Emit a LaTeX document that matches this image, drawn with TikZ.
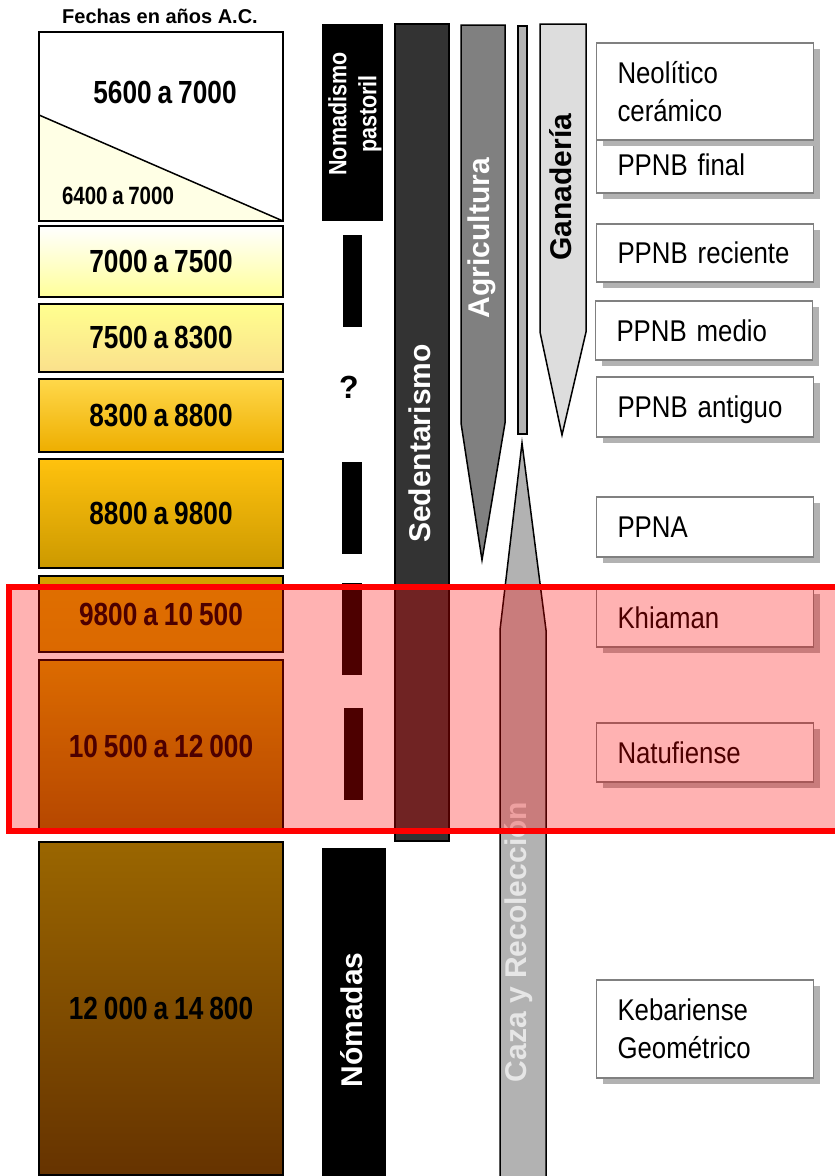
\documentclass[tikz,border=0pt]{standalone}
\usepackage{fontspec}
\setmainfont{Liberation Sans}
\newfontfamily\datefont[FakeStretch=0.82,WordSpace=0.82]{Liberation Sans}
\newfontfamily\narrowfont[FakeStretch=0.86,WordSpace=0.86]{Liberation Sans}
\usetikzlibrary{shadows}
\definecolor{tri}{HTML}{FFFFE5}
\definecolor{sedgray}{HTML}{333333}
\definecolor{agrgray}{HTML}{808080}
\definecolor{cazagray}{HTML}{B2B2B2}
\definecolor{gangray}{HTML}{DDDDDD}
\definecolor{boxgray}{HTML}{808080}
\definecolor{shadowgray}{HTML}{B2B2B2}
\definecolor{cazatext}{HTML}{E6E6E6}
\tikzset{
  datebox/.style={draw=black, line width=2pt, minimum width=244pt, inner sep=0pt,
    font=\datefont\bfseries\fontsize{32}{38}\selectfont},
  smalldate/.style={inner sep=0pt, font=\datefont\bfseries\fontsize{25}{30}\selectfont},
  col/.style={draw=black, line width=1.5pt},
  vlabel/.style={rotate=90, inner sep=0pt, text height=21.5pt, text depth=0pt,
    font=\bfseries\fontsize{30}{36}\selectfont},
  perbox/.style={draw=boxgray, line width=1.5pt, fill=white, minimum width=214pt,
    text width=175pt, inner xsep=21pt, inner ysep=0pt, align=left,
    font=\narrowfont\fontsize{30}{38}\selectfont,
    drop shadow={shadow xshift=6pt, shadow yshift=-6pt, fill=shadowgray, opacity=1}},
  perone/.style={perbox, text height=21.5pt, text depth=0pt},
}
\begin{document}
\begin{tikzpicture}[x=1pt,y=-1pt]
\useasboundingbox (0,0) rectangle (835,1176);
\clip (0,0) rectangle (835,1176);
\fill[white] (0,0) rectangle (835,1176);

% title
\node[inner sep=0pt, font=\bfseries\fontsize{20}{24}\selectfont] (title) at (160,16.5) {Fechas en años A.C.};

% date boxes
\node[datebox, fill=white, minimum height=189pt] (d1) at (161,126.5) {};
\fill[tri] (39,115) -- (283,221) -- (39,221) -- cycle;
\draw[line width=1.5pt] (39,115) -- (283,221);
\draw[line width=2pt] (39,32) rectangle (283,221);
\node[inner sep=0pt, font=\datefont\bfseries\fontsize{32}{38}\selectfont] (d1a) at (165,92) {5600 a 7000};
\node[smalldate] (d1b) at (118,195.5) {6400 a 7000};

\node[datebox, top color=white, bottom color={rgb,255:red,255;green,255;blue,153}, minimum height=71pt] (d2) at (161,261.5) {7000 a 7500};
\node[datebox, top color={rgb,255:red,255;green,255;blue,143}, bottom color={rgb,255:red,250;green,224;blue,140}, minimum height=68pt] (d3) at (161,338) {7500 a 8300};
\node[datebox, top color={rgb,255:red,255;green,216;blue,74}, bottom color={rgb,255:red,238;green,174;blue,0}, minimum height=73pt] (d4) at (161,415.5) {8300 a 8800};
\node[datebox, top color={rgb,255:red,255;green,194;blue,14}, bottom color={rgb,255:red,204;green,153;blue,0}, minimum height=109pt] (d5) at (161,513.5) {8800 a 9800};
\node[datebox, top color={rgb,255:red,212;green,161;blue,0}, bottom color={rgb,255:red,204;green,150;blue,0}, minimum height=76pt] (d6) at (161,614) {9800 a 10 500};
\node[datebox, top color={rgb,255:red,206;green,154;blue,0}, bottom color={rgb,255:red,150;green,102;blue,0}, minimum height=172pt] (d7) at (161,746) {10 500 a 12 000};
\node[datebox, top color={rgb,255:red,154;green,102;blue,0}, bottom color={rgb,255:red,102;green,51;blue,0}, minimum height=333pt] (d8) at (161,1008.5) {12 000 a 14 800};

% nomadismo column
\node[fill=black, inner sep=0pt, minimum width=61pt, minimum height=197pt] (np) at (352.5,122.5) {};
\node[rotate=90, inner sep=0pt, align=center, text=white,
  font=\narrowfont\bfseries\fontsize{25}{30}\selectfont] (npt) at (355,114) {Nomadismo\\pastoril};
\fill[black] (343,235) rectangle (362,327);
\node[inner sep=0pt, font=\bfseries\fontsize{32}{38}\selectfont] (q) at (349,387) {?};
\fill[black] (342,462) rectangle (362,554);
\fill[black] (342,583) rectangle (362,675);
\fill[black] (344,708) rectangle (363,800);
\node[fill=black, inner sep=0pt, minimum width=64pt, minimum height=332pt] (nom) at (354,1014) {};
\node[vlabel, text=white] (nomt) at (351.5,1020) {Nómadas};

% sedentarismo
\filldraw[col, fill=sedgray] (395,24) rectangle (449,841);
\node[vlabel, text=white] (sed) at (420,443.5) {Sedentarismo};

% agricultura
\filldraw[col, fill=agrgray] (461,25) -- (505,25) -- (505,423) -- (482,560) -- (461,423) -- cycle;
\node[vlabel, text=white] (agr) at (479,238) {Agricultura};

% thin bar
\filldraw[col, fill=cazagray] (518,26) rectangle (527,434);

% ganaderia
\filldraw[col, fill=gangray] (540,24) -- (586,24) -- (586,332) -- (562,435) -- (540,332) -- cycle;
\node[vlabel, text=black] (gan) at (561,187) {Ganadería};

% caza
\filldraw[col, fill=cazagray] (522,443) -- (546,630) -- (546,1185) -- (500,1185) -- (500,630) -- cycle;
\node[vlabel, text=cazatext] (caza) at (516,942) {Caza y Recolección};

% right boxes
\node[perone, minimum height=56pt] (pf) at (705,165) {PPNB final};
\node[perbox, minimum height=97pt] (neo) at (705,91.5) {Neolítico\\cerámico};
\node[perone, minimum height=58pt] (pr) at (705,253) {PPNB reciente};
\node[perone, minimum height=59pt] (pm) at (704,330.5) {PPNB medio};
\node[perone, minimum height=60pt] (pa) at (705,407) {PPNB antiguo};
\node[perone, minimum height=60pt] (ppna) at (705,527) {PPNA};
\node[perone, minimum height=59pt] (kh) at (705,617.5) {Khiaman};
\node[perone, minimum height=59pt] (nat) at (705,752.5) {Natufiense};
\node[perbox, minimum height=98pt] (keb) at (705,1029) {Kebariense\\Geométrico};

% highlight
\path[draw=red, line width=6pt, fill=red, fill opacity=0.3] (9,587) rectangle (845,831);
\end{tikzpicture}
\end{document}
